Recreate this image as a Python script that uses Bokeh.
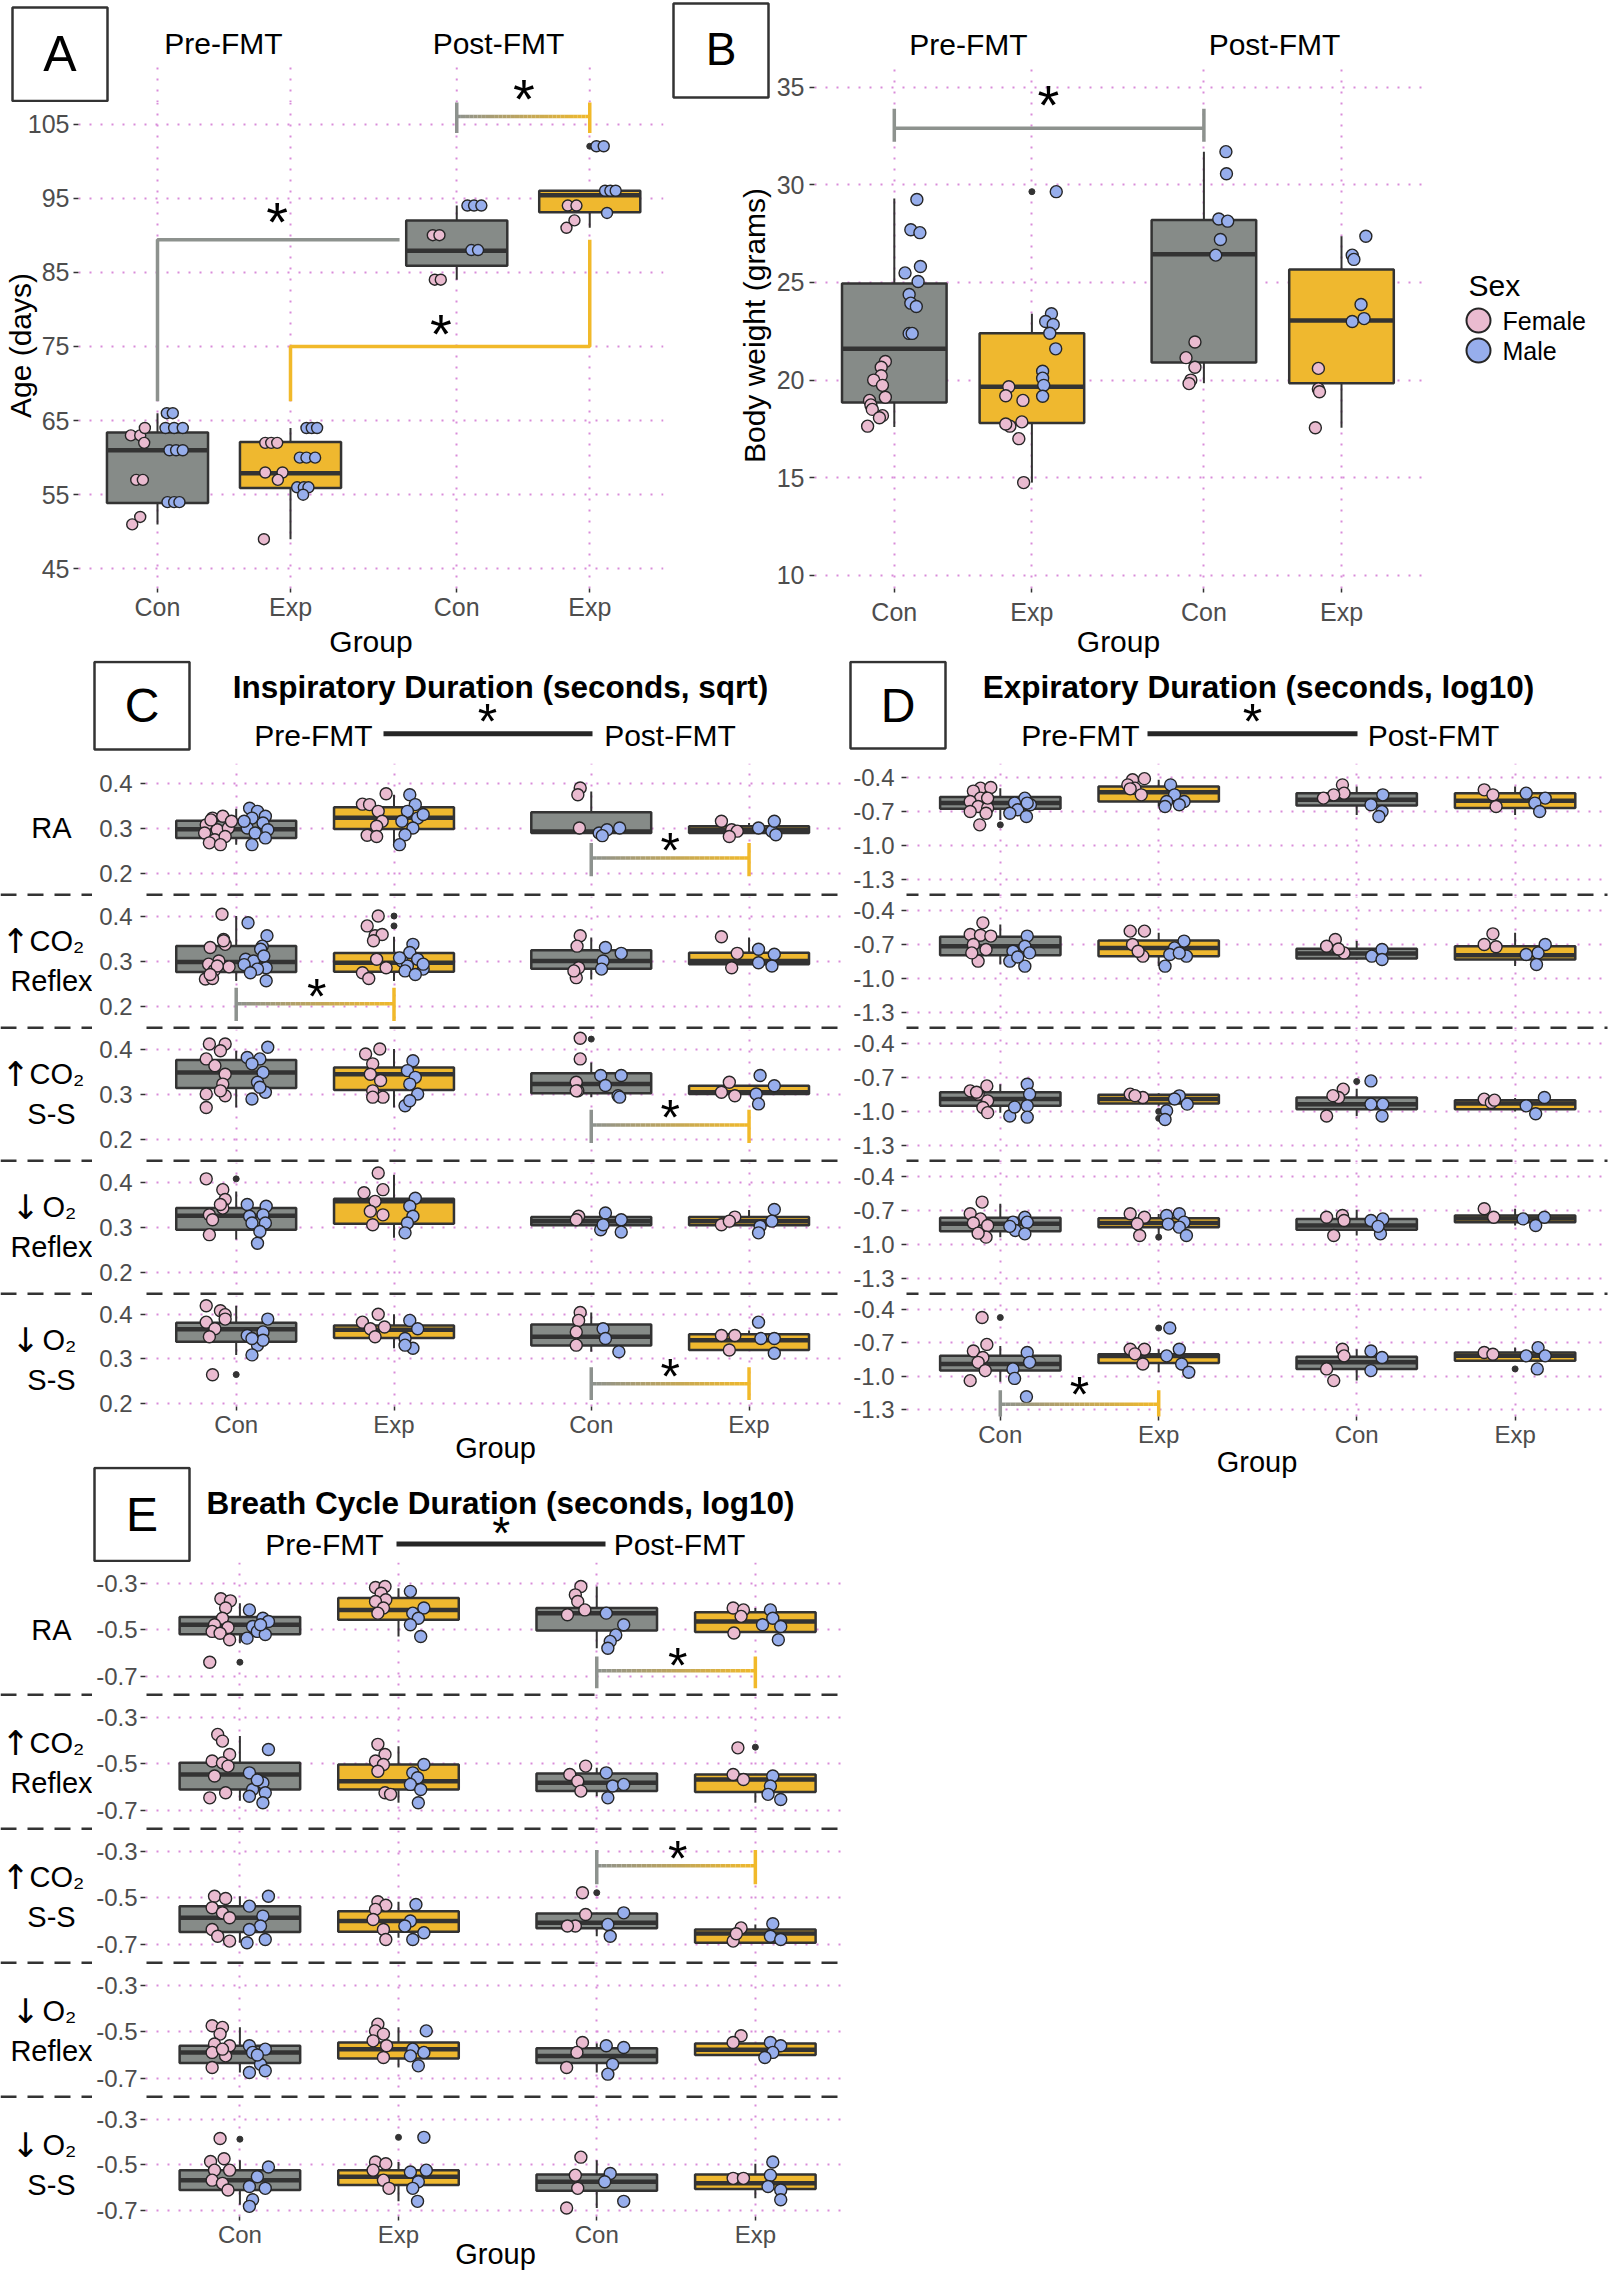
import math
from bokeh.plotting import figure
from bokeh.models import Range1d, FixedTicker, Label, Arrow, Grid, LinearAxis
from bokeh.layouts import row, column
from bokeh.embed import file_html
from bokeh.resources import INLINE
from bokeh.core.properties import value

FONT = "Liberation Sans"
ARROW_FONT = "DejaVu Sans"
DARK = "#333333"
PT_EDGE = "#262626"
TICK_COL = "#4D4D4D"
GRID_COL = "#D98CD9"
GREY = "#868B88"
YELLOW = "#EFB82F"
BR_GREY = "#8D928E"
BR_YELLOW = "#F1B92A"
FEMALE = "#EABBD0"
MALE = "#97AEEC"

# ---------------------------------------------------------------- data
X_POS = [1.0, 2.0, 3.25, 4.25]
X_LABELS = ["Con", "Exp", "Con", "Exp"]
BOX_FILL = [GREY, YELLOW, GREY, YELLOW]
SEX_LABELS = ["Female", "Male"]
ROW_LABELS = [["RA"], ["\u2191 CO\u2082", "Reflex"], ["\u2191 CO\u2082", "S-S"],
              ["\u2193 O\u2082", "Reflex"], ["\u2193 O\u2082", "S-S"]]

A_YTICKS = [45, 55, 65, 75, 85, 95, 105]
A_YLABELS = ["45", "55", "65", "75", "85", "95", "105"]
B_YTICKS = [10, 15, 20, 25, 30, 35]
B_YLABELS = ["10", "15", "20", "25", "30", "35"]
C_YTICKS = [0.2, 0.3, 0.4]
C_YLABELS = ["0.2", "0.3", "0.4"]
D_YTICKS = [-1.3, -1.0, -0.7, -0.4]
D_YLABELS = ["-1.3", "-1.0", "-0.7", "-0.4"]
E_YTICKS = [-0.7, -0.5, -0.3]
E_YLABELS = ["-0.7", "-0.5", "-0.3"]

# box stats per group: (q1, median, q3, whisker low, whisker high)
# points per group: (jitter offset, value)
A_BOX = [(53.9, 61.0, 63.4, 51.0, 66.0), (55.9, 57.9, 62.1, 49.0, 64.0),
         (85.9, 87.9, 92.0, 84.0, 94.0), (93.1, 95.4, 96.0, 91.0, 96.0)]
A_OUT = [[], [], [], [102.0]]
A_F = [[(-0.19, 51), (-0.13, 52), (-0.16, 57), (-0.11, 57), (-0.20, 63), (-0.13, 63), (-0.095, 64), (-0.10, 62)],
       [(-0.20, 49), (-0.19, 62), (-0.145, 62), (-0.10, 62), (-0.19, 58), (-0.06, 58), (-0.095, 57)],
       [(-0.18, 90), (-0.13, 90), (-0.165, 84), (-0.12, 84)],
       [(-0.165, 94), (-0.10, 94), (-0.115, 92), (-0.175, 91)]]
A_M = [[(0.07, 66), (0.115, 66), (0.06, 64), (0.125, 64), (0.19, 64), (0.09, 61), (0.14, 61), (0.19, 61),
        (0.075, 54), (0.125, 54), (0.165, 54)],
       [(0.12, 64), (0.16, 64), (0.20, 64), (0.07, 60), (0.12, 60), (0.185, 60), (0.05, 56), (0.10, 56),
        (0.135, 56), (0.095, 55)],
       [(0.08, 94), (0.13, 94), (0.185, 94), (0.11, 88), (0.16, 88)],
       [(0.05, 102), (0.105, 102), (0.115, 96), (0.155, 96), (0.195, 96), (0.13, 93)]]
A_PATH_GREY = ([1.0, 1.0, 2.82], [67.6, 89.4, 89.4])
A_PATH_YELLOW = ([2.0, 2.0, 4.25, 4.25], [67.6, 75.0, 75.0, 89.4])
A_TOP_BRACKET = (3.25, 4.25, 106.0, 103.8, 108.1)
A_STARS = [(1.9, 92.8), (3.13, 77.6)]
A_TOP_STAR = (3.755, 109.4)

B_BOX = [(18.85, 21.6, 24.95, 17.6, 29.3), (17.8, 19.66, 22.4, 14.75, 23.4),
         (20.9, 26.45, 28.2, 19.84, 31.7), (19.84, 23.05, 25.66, 17.56, 27.37)]
B_OUT = [[], [29.65], [], []]
B_F = [[(-0.065, 20.95), (-0.095, 20.66), (-0.095, 20.22), (-0.15, 20.0), (-0.086, 19.73), (-0.065, 19.12),
        (-0.18, 18.96), (-0.17, 18.73), (-0.16, 18.5), (-0.086, 18.18), (-0.108, 18.07), (-0.194, 17.64)],
       [(-0.168, 19.66), (-0.19, 19.2), (-0.065, 18.96), (-0.16, 17.64), (-0.073, 17.86), (-0.19, 17.75),
        (-0.095, 17.0), (-0.06, 14.75)],
       [(-0.065, 21.95), (-0.13, 21.15), (-0.065, 20.66), (-0.095, 20.0), (-0.108, 19.82)],
       [(-0.168, 20.6), (-0.168, 19.55), (-0.16, 19.4), (-0.19, 17.56)]]
B_M = [[(0.164, 29.25), (0.12, 27.7), (0.186, 27.55), (0.19, 25.82), (0.078, 25.49), (0.173, 25.05),
        (0.108, 24.38), (0.12, 23.94), (0.16, 23.77), (0.108, 22.39), (0.13, 22.39)],
       [(0.177, 29.65), (0.142, 23.4), (0.10, 23.0), (0.155, 22.85), (0.13, 22.4), (0.173, 21.6),
        (0.078, 20.45), (0.078, 20.1), (0.086, 19.73), (0.078, 19.17)],
       [(0.16, 31.7), (0.164, 30.57), (0.108, 28.25), (0.173, 28.14), (0.12, 27.2), (0.086, 26.4)],
       [(0.177, 27.37), (0.078, 26.4), (0.09, 26.18), (0.142, 23.87), (0.078, 23.0), (0.164, 23.15)]]
B_BRACKET = (1.0, 3.25, 32.9, 32.2, 33.9)
B_STAR = (2.12, 34.47)

# ---- Panel C : inspiratory duration (sqrt s)
C_RA_BOX = [(0.278, 0.297, 0.316, 0.263, 0.343), (0.298, 0.323, 0.346, 0.263, 0.374),
            (0.289, 0.292, 0.335, 0.289, 0.381), (0.289, 0.296, 0.304, 0.289, 0.311)]
C_RA_OUT = [[], [], [], []]
C_RA_F = [[(-0.15, 0.322), (-0.085, 0.326), (-0.19, 0.307), (-0.12, 0.296), (-0.05, 0.300), (-0.20, 0.289),
           (-0.135, 0.274), (-0.07, 0.281), (-0.17, 0.267), (-0.10, 0.263), (-0.03, 0.315), (-0.16, 0.318)],
          [(-0.20, 0.353), (-0.155, 0.352), (-0.05, 0.376), (-0.10, 0.337), (-0.075, 0.315), (-0.11, 0.304),
           (-0.17, 0.284), (-0.11, 0.281)],
          [(-0.07, 0.389), (-0.085, 0.374), (-0.075, 0.300)],
          [(-0.175, 0.315), (-0.11, 0.296), (-0.075, 0.293), (-0.125, 0.281)]]
C_RA_M = [[(0.085, 0.344), (0.135, 0.337), (0.10, 0.322), (0.185, 0.326), (0.17, 0.311), (0.07, 0.300),
           (0.20, 0.296), (0.12, 0.289), (0.185, 0.278), (0.10, 0.263), (0.05, 0.315)],
          [(0.10, 0.374), (0.135, 0.352), (0.085, 0.337), (0.15, 0.322), (0.05, 0.315), (0.12, 0.300),
           (0.07, 0.285), (0.035, 0.263), (0.185, 0.330)],
          [(0.05, 0.289), (0.10, 0.296), (0.18, 0.300), (0.07, 0.283)],
          [(0.06, 0.300), (0.145, 0.293), (0.16, 0.315), (0.17, 0.285)]]

C_CO2R_BOX = [(0.2756, 0.298, 0.3333, 0.2556, 0.400), (0.276, 0.296, 0.318, 0.2556, 0.354),
              (0.283, 0.300, 0.3237, 0.259, 0.352), (0.2926, 0.300, 0.3185, 0.2926, 0.352)]
C_CO2R_OUT = [[], [0.400, 0.378], [], []]
C_CO2R_F = [[(-0.09, 0.404), (-0.08, 0.348), (-0.165, 0.330), (-0.07, 0.337), (-0.11, 0.300), (-0.175, 0.293),
             (-0.045, 0.287), (-0.14, 0.279), (-0.195, 0.260), (-0.15, 0.261), (-0.08, 0.345), (-0.12, 0.289),
             (-0.165, 0.270)],
            [(-0.10, 0.400), (-0.17, 0.378), (-0.12, 0.356), (-0.075, 0.359), (-0.13, 0.345), (-0.11, 0.304),
             (-0.05, 0.285), (-0.20, 0.274), (-0.16, 0.261)],
            [(-0.07, 0.356), (-0.09, 0.333), (-0.08, 0.285), (-0.095, 0.263), (-0.11, 0.278)],
            [(-0.175, 0.354), (-0.075, 0.317), (-0.11, 0.285)]]
C_CO2R_M = [[(0.075, 0.385), (0.195, 0.356), (0.165, 0.333), (0.155, 0.326), (0.06, 0.304), (0.11, 0.300),
             (0.19, 0.285), (0.05, 0.292), (0.135, 0.282), (0.09, 0.274), (0.19, 0.256), (0.175, 0.311)],
            [(0.12, 0.337), (0.10, 0.319), (0.05, 0.300), (0.15, 0.304), (0.085, 0.289), (0.185, 0.282),
             (0.07, 0.278), (0.135, 0.270), (0.035, 0.307), (0.185, 0.293)],
            [(0.09, 0.330), (0.19, 0.317), (0.075, 0.300), (0.065, 0.282)],
            [(0.06, 0.326), (0.16, 0.315), (0.145, 0.289), (0.06, 0.296)]]

C_CO2S_BOX = [(0.3133, 0.348, 0.3756, 0.270, 0.396), (0.309, 0.344, 0.359, 0.270, 0.400),
              (0.3015, 0.322, 0.346, 0.293, 0.370), (0.300, 0.304, 0.3185, 0.300, 0.3185)]
C_CO2S_OUT = [[], [], [0.422], []]
C_CO2S_F = [[(-0.17, 0.411), (-0.07, 0.411), (-0.10, 0.396), (-0.19, 0.378), (-0.135, 0.363), (-0.07, 0.344),
             (-0.085, 0.322), (-0.19, 0.300), (-0.19, 0.270), (-0.07, 0.296), (-0.10, 0.307)],
            [(-0.18, 0.389), (-0.09, 0.400), (-0.135, 0.367), (-0.15, 0.344), (-0.085, 0.330), (-0.135, 0.307),
             (-0.07, 0.293), (-0.135, 0.293)],
            [(-0.07, 0.424), (-0.07, 0.378), (-0.095, 0.326), (-0.085, 0.307), (-0.095, 0.307)],
            [(-0.125, 0.326), (-0.175, 0.304), (-0.09, 0.296)]]
C_CO2S_M = [[(0.20, 0.404), (0.07, 0.381), (0.15, 0.378), (0.10, 0.367), (0.17, 0.348), (0.135, 0.326),
             (0.10, 0.289), (0.185, 0.304), (0.15, 0.315)],
            [(0.12, 0.374), (0.085, 0.352), (0.135, 0.337), (0.10, 0.322), (0.07, 0.274), (0.15, 0.300),
             (0.10, 0.285)],
            [(0.06, 0.341), (0.19, 0.341), (0.09, 0.319), (0.17, 0.296), (0.18, 0.293)],
            [(0.07, 0.341), (0.16, 0.3185), (0.045, 0.300), (0.06, 0.278)]]

C_O2R_BOX = [(0.294, 0.325, 0.342, 0.272, 0.379), (0.307, 0.357, 0.363, 0.276, 0.416),
             (0.304, 0.313, 0.322, 0.304, 0.322), (0.304, 0.313, 0.322, 0.304, 0.338)]
C_O2R_OUT = [[0.407], [], [], []]
C_O2R_F = [[(-0.19, 0.407), (-0.085, 0.383), (-0.07, 0.361), (-0.085, 0.342), (-0.17, 0.327), (-0.15, 0.316),
            (-0.10, 0.350), (-0.17, 0.283)],
           [(-0.10, 0.420), (-0.19, 0.376), (-0.07, 0.383), (-0.12, 0.357), (-0.15, 0.335), (-0.135, 0.305),
            (-0.07, 0.327)],
           [(-0.08, 0.324), (-0.095, 0.316)],
           [(-0.175, 0.305), (-0.09, 0.322), (-0.125, 0.313)]]
C_O2R_M = [[(0.07, 0.350), (0.19, 0.346), (0.085, 0.324), (0.17, 0.327), (0.10, 0.309), (0.185, 0.309),
            (0.15, 0.290), (0.135, 0.264)],
           [(0.135, 0.364), (0.10, 0.346), (0.12, 0.324), (0.085, 0.309), (0.07, 0.287)],
           [(0.09, 0.331), (0.19, 0.316), (0.06, 0.294), (0.19, 0.289), (0.075, 0.305)],
           [(0.16, 0.339), (0.145, 0.313), (0.07, 0.3015), (0.06, 0.287)]]

C_O2S_BOX = [(0.3385, 0.367, 0.3815, 0.309, 0.420), (0.347, 0.366, 0.3756, 0.324, 0.401),
             (0.330, 0.350, 0.378, 0.316, 0.405), (0.320, 0.342, 0.3556, 0.320, 0.364)]
C_O2S_OUT = [[0.2644], [], [], []]
C_O2S_F = [[(-0.19, 0.420), (-0.10, 0.409), (-0.07, 0.400), (-0.19, 0.383), (-0.135, 0.368), (-0.17, 0.350),
            (-0.07, 0.390), (-0.15, 0.264)],
           [(-0.10, 0.401), (-0.20, 0.383), (-0.15, 0.368), (-0.06, 0.372), (-0.12, 0.350)],
           [(-0.07, 0.405), (-0.08, 0.387), (-0.095, 0.361), (-0.095, 0.331)],
           [(-0.175, 0.353), (-0.09, 0.353), (-0.125, 0.320)]]
C_O2S_M = [[(0.20, 0.390), (0.07, 0.353), (0.17, 0.361), (0.135, 0.331), (0.10, 0.309), (0.17, 0.342),
            (0.10, 0.346)],
           [(0.10, 0.387), (0.15, 0.368), (0.07, 0.346), (0.12, 0.324), (0.07, 0.331)],
           [(0.075, 0.368), (0.09, 0.346), (0.175, 0.316)],
           [(0.06, 0.383), (0.075, 0.346), (0.16, 0.346), (0.16, 0.3126)]]

# significance brackets: (row, x from, x to, y, tick low, tick high, star x, star y)
C_SIG = [(0, 3.25, 4.25, 0.2333, 0.1926, 0.2667, 3.75, 0.263),
         (1, 1.0, 2.0, 0.2052, 0.1667, 0.2407, 1.51, 0.233),
         (2, 3.25, 4.25, 0.231, 0.191, 0.265, 3.75, 0.259),
         (4, 3.25, 4.25, 0.2437, 0.2067, 0.281, 3.75, 0.272)]

# ---- Panel D : expiratory duration (log10 s)
D_RA_BOX = [(-0.676, -0.626, -0.573, -0.774, -0.494), (-0.612, -0.53, -0.479, -0.656, -0.42),
            (-0.647, -0.597, -0.538, -0.73, -0.479), (-0.67, -0.606, -0.538, -0.73, -0.479)]
D_RA_OUT = [[-0.818], [], [], []]
D_RA_F = [[(-0.125, -0.494), (-0.06, -0.488), (-0.17, -0.52), (-0.125, -0.582), (-0.19, -0.612), (-0.14, -0.656),
           (-0.08, -0.670), (-0.19, -0.700), (-0.09, -0.715), (-0.13, -0.818), (-0.08, -0.582)],
          [(-0.165, -0.420), (-0.09, -0.410), (-0.195, -0.465), (-0.15, -0.494), (-0.11, -0.553), (-0.18, -0.50)],
          [(-0.09, -0.465), (-0.08, -0.538), (-0.145, -0.553), (-0.21, -0.582)],
          [(-0.195, -0.509), (-0.14, -0.553), (-0.12, -0.656)]]
D_RA_M = [[(0.155, -0.582), (0.09, -0.626), (0.19, -0.641), (0.11, -0.685), (0.06, -0.715), (0.165, -0.744),
           (0.17, -0.626)],
          [(0.075, -0.465), (0.10, -0.553), (0.05, -0.612), (0.16, -0.612), (0.13, -0.641), (0.04, -0.656)],
          [(0.165, -0.553), (0.09, -0.641), (0.16, -0.700), (0.14, -0.744)],
          [(0.07, -0.538), (0.19, -0.582), (0.125, -0.626), (0.155, -0.700)]]

D_CO2R_BOX = [(-0.794, -0.715, -0.632, -0.876, -0.524), (-0.803, -0.73, -0.665, -0.89, -0.597),
              (-0.824, -0.78, -0.738, -0.832, -0.67), (-0.832, -0.794, -0.715, -0.89, -0.597)]
D_CO2R_OUT = [[], [], [], []]
D_CO2R_F = [[(-0.11, -0.509), (-0.19, -0.612), (-0.125, -0.618), (-0.06, -0.626), (-0.17, -0.70), (-0.09, -0.744),
             (-0.14, -0.847), (-0.18, -0.774)],
            [(-0.18, -0.582), (-0.09, -0.582), (-0.165, -0.70), (-0.10, -0.803), (-0.13, -0.76)],
            [(-0.135, -0.656), (-0.19, -0.715), (-0.08, -0.774), (-0.115, -0.74)],
            [(-0.14, -0.606), (-0.195, -0.70), (-0.12, -0.72)]]
D_CO2R_M = [[(0.17, -0.626), (0.155, -0.715), (0.08, -0.759), (0.185, -0.774), (0.06, -0.847), (0.155, -0.891),
             (0.11, -0.81)],
            [(0.16, -0.67), (0.10, -0.73), (0.07, -0.788), (0.175, -0.803), (0.04, -0.891), (0.13, -0.775)],
            [(0.16, -0.744), (0.095, -0.803), (0.16, -0.832)],
            [(0.19, -0.70), (0.145, -0.774), (0.07, -0.788), (0.135, -0.876)]]

D_CO2S_BOX = [(-0.95, -0.89, -0.83, -1.01, -0.76), (-0.929, -0.89, -0.853, -0.95, -0.84),
              (-0.98, -0.935, -0.876, -1.04, -0.80), (-0.98, -0.93, -0.90, -1.0, -0.88)]
D_CO2S_OUT = [[], [-1.0, -1.06], [-0.735], []]
D_CO2S_F = [[(-0.19, -0.818), (-0.085, -0.774), (-0.14, -0.847), (-0.08, -0.906), (-0.11, -0.965), (-0.08, -1.01),
             (-0.15, -0.83)],
            [(-0.18, -0.847), (-0.10, -0.876), (-0.15, -0.86)],
            [(-0.085, -0.803), (-0.115, -0.876), (-0.15, -0.86), (-0.19, -1.04)],
            [(-0.195, -0.891), (-0.15, -0.92), (-0.13, -0.90)]]
D_CO2S_M = [[(0.17, -0.759), (0.185, -0.847), (0.17, -0.95), (0.06, -1.04), (0.17, -1.05), (0.09, -0.96)],
            [(0.13, -0.862), (0.18, -0.935), (0.05, -0.994), (0.04, -1.07), (0.10, -0.89)],
            [(0.09, -0.73), (0.09, -0.935), (0.165, -0.935), (0.16, -1.04)],
            [(0.07, -0.95), (0.185, -0.876), (0.13, -1.02)]]

D_O2R_BOX = [(-0.882, -0.818, -0.765, -0.935, -0.64), (-0.847, -0.81, -0.768, -0.92, -0.73),
             (-0.87, -0.832, -0.774, -0.92, -0.694), (-0.803, -0.77, -0.744, -0.832, -0.685)]
D_O2R_OUT = [[], [-0.935], [], []]
D_O2R_F = [[(-0.115, -0.626), (-0.19, -0.729), (-0.125, -0.774), (-0.08, -0.832), (-0.17, -0.81), (-0.09, -0.935),
            (-0.14, -0.90)],
           [(-0.18, -0.729), (-0.09, -0.759), (-0.135, -0.818), (-0.12, -0.92)],
           [(-0.19, -0.759), (-0.09, -0.744), (-0.08, -0.788), (-0.145, -0.92)],
           [(-0.195, -0.685), (-0.135, -0.759)]]
D_O2R_M = [[(0.155, -0.759), (0.08, -0.803), (0.17, -0.803), (0.095, -0.876), (0.155, -0.906), (0.06, -0.84)],
           [(0.13, -0.729), (0.05, -0.744), (0.16, -0.803), (0.13, -0.847), (0.175, -0.92), (0.06, -0.82)],
           [(0.09, -0.788), (0.165, -0.774), (0.15, -0.906), (0.135, -0.84)],
           [(0.05, -0.774), (0.13, -0.832), (0.185, -0.759)]]

D_O2S_BOX = [(-0.95, -0.89, -0.818, -1.05, -0.73), (-0.882, -0.82, -0.803, -0.965, -0.759),
             (-0.935, -0.876, -0.826, -1.04, -0.759), (-0.862, -0.818, -0.788, -0.862, -0.744)]
D_O2S_OUT = [[-0.474], [-0.568], [], [-0.935]]
D_O2S_F = [[(-0.115, -0.474), (-0.085, -0.715), (-0.17, -0.774), (-0.11, -0.832), (-0.14, -0.876), (-0.095, -0.95),
            (-0.19, -1.04)],
           [(-0.18, -0.759), (-0.09, -0.759), (-0.15, -0.80), (-0.10, -0.891)],
           [(-0.09, -0.759), (-0.08, -0.818), (-0.19, -0.935), (-0.145, -1.04)],
           [(-0.195, -0.788), (-0.14, -0.803)]]
D_O2S_M = [[(0.17, -0.788), (0.185, -0.876), (0.08, -0.935), (0.09, -1.02), (0.165, -1.185)],
           [(0.07, -0.568), (0.13, -0.759), (0.05, -0.818), (0.145, -0.891), (0.19, -0.965)],
           [(0.09, -0.774), (0.16, -0.832), (0.09, -0.95)],
           [(0.145, -0.744), (0.19, -0.818), (0.07, -0.818), (0.14, -0.935)]]

D_SIG = [(4, 1.0, 2.0, -1.253, -1.406, -1.126, 1.50, -1.12)]

# ---- Panel E : breath cycle duration (log10 s)
E_RA_BOX = [(-0.519, -0.478, -0.445, -0.558, -0.385), (-0.457, -0.414, -0.363, -0.529, -0.32),
            (-0.503, -0.428, -0.406, -0.58, -0.313), (-0.51, -0.464, -0.424, -0.514, -0.406)]
E_RA_OUT = [[-0.64], [], [], []]
E_RA_F = [[(-0.12, -0.366), (-0.06, -0.375), (-0.09, -0.406), (-0.11, -0.45), (-0.16, -0.478), (-0.075, -0.49),
           (-0.175, -0.507), (-0.125, -0.515), (-0.065, -0.543), (-0.19, -0.64)],
          [(-0.145, -0.317), (-0.085, -0.313), (-0.11, -0.342), (-0.08, -0.37), (-0.145, -0.378), (-0.095, -0.406),
           (-0.13, -0.428)],
          [(-0.10, -0.313), (-0.135, -0.349), (-0.12, -0.378), (-0.075, -0.414), (-0.185, -0.435)],
          [(-0.14, -0.406), (-0.075, -0.414), (-0.09, -0.442), (-0.135, -0.514)]]
E_RA_M = [[(0.06, -0.414), (0.145, -0.45), (0.18, -0.464), (0.08, -0.486), (0.11, -0.507), (0.16, -0.52),
           (0.045, -0.536), (0.13, -0.478)],
          [(0.075, -0.334), (0.16, -0.406), (0.09, -0.428), (0.125, -0.45), (0.075, -0.478), (0.14, -0.529)],
          [(0.06, -0.428), (0.17, -0.478), (0.12, -0.522), (0.085, -0.55), (0.07, -0.58)],
          [(0.095, -0.414), (0.11, -0.45), (0.16, -0.486), (0.045, -0.478), (0.145, -0.543)]]

E_CO2R_BOX = [(-0.611, -0.546, -0.496, -0.66, -0.38), (-0.611, -0.575, -0.503, -0.668, -0.424),
              (-0.618, -0.582, -0.542, -0.64, -0.517), (-0.622, -0.568, -0.546, -0.668, -0.546)]
E_CO2R_OUT = [[], [], [], [-0.428]]
E_CO2R_F = [[(-0.14, -0.373), (-0.11, -0.402), (-0.065, -0.46), (-0.175, -0.488), (-0.11, -0.496), (-0.075, -0.51),
             (-0.16, -0.553), (-0.19, -0.647), (-0.09, -0.625)],
            [(-0.13, -0.416), (-0.085, -0.46), (-0.145, -0.488), (-0.095, -0.503), (-0.13, -0.532), (-0.085, -0.625),
             (-0.05, -0.632)],
            [(-0.07, -0.51), (-0.17, -0.546), (-0.12, -0.575), (-0.10, -0.618)],
            [(-0.11, -0.431), (-0.14, -0.546), (-0.075, -0.568)]]
E_CO2R_M = [[(0.18, -0.438), (0.06, -0.539), (0.145, -0.582), (0.08, -0.611), (0.16, -0.625), (0.06, -0.64),
             (0.145, -0.668), (0.11, -0.57)],
            [(0.16, -0.503), (0.09, -0.539), (0.12, -0.56), (0.075, -0.589), (0.14, -0.611), (0.125, -0.668)],
            [(0.06, -0.539), (0.10, -0.596), (0.17, -0.589), (0.07, -0.647)],
            [(0.11, -0.553), (0.095, -0.596), (0.08, -0.632), (0.16, -0.654)]]

E_CO2S_BOX = [(-0.648, -0.586, -0.536, -0.694, -0.493), (-0.647, -0.60, -0.558, -0.673, -0.517),
              (-0.632, -0.608, -0.568, -0.666, -0.565), (-0.694, -0.654, -0.637, -0.694, -0.615)]
E_CO2S_OUT = [[], [], [-0.478], []]
E_CO2S_F = [[(-0.16, -0.493), (-0.09, -0.503), (-0.175, -0.543), (-0.11, -0.565), (-0.065, -0.586), (-0.175, -0.637),
             (-0.14, -0.666), (-0.065, -0.687)],
            [(-0.13, -0.517), (-0.08, -0.532), (-0.145, -0.55), (-0.16, -0.594), (-0.095, -0.637), (-0.08, -0.68)],
            [(-0.09, -0.478), (-0.07, -0.572), (-0.135, -0.622), (-0.185, -0.622)],
            [(-0.09, -0.63), (-0.14, -0.687), (-0.12, -0.655)]]
E_CO2S_M = [[(0.18, -0.493), (0.06, -0.536), (0.145, -0.579), (0.13, -0.622), (0.06, -0.637), (0.16, -0.68),
             (0.045, -0.694)],
            [(0.11, -0.529), (0.075, -0.60), (0.16, -0.651), (0.09, -0.68), (0.04, -0.622)],
            [(0.17, -0.565), (0.07, -0.615), (0.085, -0.666)],
            [(0.11, -0.612), (0.095, -0.666), (0.16, -0.68)]]

E_O2R_BOX = [(-0.635, -0.589, -0.56, -0.676, -0.48), (-0.615, -0.575, -0.546, -0.654, -0.48),
             (-0.635, -0.604, -0.571, -0.676, -0.55), (-0.60, -0.578, -0.55, -0.60, -0.55)]
E_O2R_OUT = [[], [], [], []]
E_O2R_F = [[(-0.175, -0.474), (-0.11, -0.481), (-0.125, -0.51), (-0.16, -0.553), (-0.065, -0.56), (-0.175, -0.589),
            (-0.09, -0.604), (-0.175, -0.654), (-0.11, -0.575)],
           [(-0.13, -0.467), (-0.145, -0.496), (-0.095, -0.51), (-0.16, -0.539), (-0.075, -0.56), (-0.095, -0.611)],
           [(-0.09, -0.546), (-0.125, -0.589), (-0.19, -0.654)],
           [(-0.09, -0.517), (-0.14, -0.546)]]
E_O2R_M = [[(0.06, -0.56), (0.16, -0.575), (0.08, -0.589), (0.13, -0.64), (0.06, -0.676), (0.16, -0.668),
            (0.11, -0.60)],
           [(0.175, -0.496), (0.09, -0.575), (0.16, -0.589), (0.075, -0.604), (0.125, -0.647)],
           [(0.06, -0.56), (0.17, -0.568), (0.10, -0.64), (0.07, -0.683)],
           [(0.095, -0.546), (0.16, -0.56), (0.11, -0.589), (0.06, -0.611)]]

E_O2S_BOX = [(-0.611, -0.568, -0.524, -0.676, -0.48), (-0.589, -0.553, -0.524, -0.661, -0.488),
             (-0.615, -0.575, -0.543, -0.69, -0.48), (-0.607, -0.582, -0.543, -0.647, -0.496)]
E_O2S_OUT = [[-0.388], [-0.38], [], []]
E_O2S_F = [[(-0.125, -0.385), (-0.185, -0.486), (-0.10, -0.474), (-0.16, -0.524), (-0.065, -0.524), (-0.175, -0.568),
            (-0.11, -0.582), (-0.075, -0.611)],
           [(-0.145, -0.488), (-0.08, -0.496), (-0.16, -0.524), (-0.095, -0.568), (-0.06, -0.604)],
           [(-0.10, -0.467), (-0.135, -0.546), (-0.12, -0.604), (-0.19, -0.69)],
           [(-0.14, -0.56), (-0.075, -0.56)]]
E_O2S_M = [[(0.18, -0.51), (0.11, -0.553), (0.06, -0.596), (0.16, -0.604), (0.08, -0.654), (0.06, -0.683)],
           [(0.16, -0.38), (0.175, -0.524), (0.075, -0.532), (0.125, -0.575), (0.09, -0.604), (0.12, -0.661)],
           [(0.085, -0.539), (0.05, -0.575), (0.17, -0.661)],
           [(0.11, -0.488), (0.095, -0.546), (0.08, -0.596), (0.16, -0.611), (0.16, -0.654)]]

E_SIG = [(0, 3.25, 4.25, -0.677, -0.752, -0.615, 3.76, -0.63),
         (2, 3.25, 4.25, -0.362, -0.442, -0.293, 3.76, -0.307)]

C_ROWS = [(C_RA_BOX, C_RA_OUT, C_RA_F, C_RA_M), (C_CO2R_BOX, C_CO2R_OUT, C_CO2R_F, C_CO2R_M),
          (C_CO2S_BOX, C_CO2S_OUT, C_CO2S_F, C_CO2S_M), (C_O2R_BOX, C_O2R_OUT, C_O2R_F, C_O2R_M),
          (C_O2S_BOX, C_O2S_OUT, C_O2S_F, C_O2S_M)]
D_ROWS = [(D_RA_BOX, D_RA_OUT, D_RA_F, D_RA_M), (D_CO2R_BOX, D_CO2R_OUT, D_CO2R_F, D_CO2R_M),
          (D_CO2S_BOX, D_CO2S_OUT, D_CO2S_F, D_CO2S_M), (D_O2R_BOX, D_O2R_OUT, D_O2R_F, D_O2R_M),
          (D_O2S_BOX, D_O2S_OUT, D_O2S_F, D_O2S_M)]
E_ROWS = [(E_RA_BOX, E_RA_OUT, E_RA_F, E_RA_M), (E_CO2R_BOX, E_CO2R_OUT, E_CO2R_F, E_CO2R_M),
          (E_CO2S_BOX, E_CO2S_OUT, E_CO2S_F, E_CO2S_M), (E_O2R_BOX, E_O2R_OUT, E_O2R_F, E_O2R_M),
          (E_O2S_BOX, E_O2S_OUT, E_O2S_F, E_O2S_M)]

C_TITLE = "Inspiratory Duration (seconds, sqrt)"
D_TITLE = "Expiratory Duration (seconds, log10)"
E_TITLE = "Breath Cycle Duration (seconds, log10)"


# ---------------------------------------------------------------- helpers
class Geo:
    """Maps page pixel positions onto a plot's data space."""
    def __init__(self, fl, fr, ft, fb, xv, xpx, xppu, yv, ypx, yppu):
        self.fl, self.fr, self.ft, self.fb = fl, fr, ft, fb
        self.xv, self.xpx, self.xppu = xv, xpx, xppu
        self.yv, self.ypx, self.yppu = yv, ypx, yppu

    def X(self, px):
        return self.xv + (px - self.xpx) / self.xppu

    def Y(self, py):
        return self.yv + (self.ypx - py) / self.yppu


def W(f):
    """Wrap a figure so that layouts do not re-align its frame with its neighbours."""
    return row(f)


def mix(c1, c2, t):
    a = [int(c1[i:i + 2], 16) for i in (1, 3, 5)]
    b = [int(c2[i:i + 2], 16) for i in (1, 3, 5)]
    return "#%02x%02x%02x" % tuple(int(round(a[k] + (b[k] - a[k]) * t)) for k in range(3))


def style_axis(ax, fs, tick_out, standoff):
    ax.axis_line_color = None
    ax.major_tick_line_color = DARK
    ax.major_tick_line_width = 1.5
    ax.major_tick_out = tick_out
    ax.major_tick_in = 0
    ax.minor_tick_line_color = None
    ax.major_label_text_font = FONT
    ax.major_label_text_font_size = "%dpx" % fs
    ax.major_label_text_color = TICK_COL
    ax.major_label_standoff = standoff


def style_title(ax, text, size, standoff):
    ax.axis_label = text
    ax.axis_label_text_font = FONT
    ax.axis_label_text_font_size = "%dpx" % size
    ax.axis_label_text_font_style = "normal"
    ax.axis_label_text_color = "#000000"
    ax.axis_label_standoff = standoff


def bare(p):
    p.center = [r for r in p.center if not isinstance(r, Grid)]
    p.outline_line_color = None
    p.background_fill_color = "white"
    p.border_fill_color = "white"
    return p


def make_plot(g, left, right, top, bottom, yticks, ylabels, show_x, tick_fs, ytick_out, ystand, xstand,
              xlabel=None, xls=0, xlab_fs=30, ylabel=None, yls=0):
    p = figure(width=right - left, height=bottom - top,
               x_range=Range1d(g.X(g.fl), g.X(g.fr)), y_range=Range1d(g.Y(g.fb), g.Y(g.ft)),
               x_axis_location=None, y_axis_location=None, title=None,
               toolbar_location=None, output_backend="svg",
               min_border_left=g.fl - left, min_border_right=right - g.fr,
               min_border_top=g.ft - top, min_border_bottom=bottom - g.fb)
    bare(p)
    for dim, ticks in ((0, X_POS), (1, yticks)):
        p.add_layout(Grid(dimension=dim, ticker=FixedTicker(ticks=ticks), grid_line_color=GRID_COL,
                          grid_line_width=2, grid_line_dash="2 9"))
    yax = LinearAxis(ticker=FixedTicker(ticks=yticks),
                     major_label_overrides={t: s for t, s in zip(yticks, ylabels)})
    style_axis(yax, tick_fs, ytick_out, ystand)
    if ylabel:
        style_title(yax, ylabel, 30, yls)
    p.add_layout(yax, "left")
    if show_x:
        xax = LinearAxis(ticker=FixedTicker(ticks=X_POS),
                         major_label_overrides={t: s for t, s in zip(X_POS, X_LABELS)})
        style_axis(xax, tick_fs, 4, xstand)
        if xlabel:
            style_title(xax, xlabel, xlab_fs, xls)
        p.add_layout(xax, "below")
    return p


def px_fig(w, h):
    p = figure(width=w, height=h, x_range=Range1d(0, w), y_range=Range1d(h, 0),
               x_axis_location=None, y_axis_location=None, title=None,
               toolbar_location=None, output_backend="svg",
               min_border_left=0, min_border_right=0, min_border_top=0, min_border_bottom=0)
    return bare(p)


def data_fig(g, left, right, top, bottom):
    p = figure(width=right - left, height=bottom - top,
               x_range=Range1d(g.X(left), g.X(right)), y_range=Range1d(g.Y(bottom), g.Y(top)),
               x_axis_location=None, y_axis_location=None, title=None,
               toolbar_location=None, output_backend="svg",
               min_border_left=0, min_border_right=0, min_border_top=0, min_border_bottom=0)
    return bare(p)


def txt(p, x, y, s, size, align="center", bold=False, angle=0.0, font=FONT):
    p.text(x=[x], y=[y], text=[s], text_font=value(font), text_font_size=value("%spx" % size),
           text_align=align, text_baseline="middle", text_color="black",
           text_font_style="bold" if bold else "normal", angle=angle)


STAR_SHIFT = 0.12


def star(p, g, x, yc, size):
    p.add_layout(Label(x=x, y=yc - STAR_SHIFT * size / g.yppu, text="*", text_font=FONT,
                       text_font_size="%dpx" % size, text_color="black", text_align="center",
                       text_baseline="middle"))


HALF = 0.38


def draw_boxes(p, boxes, outs, fem, mal, pt):
    wx, wy0, wy1 = [], [], []
    for i, (q1, md, q3, lo, hi) in enumerate(boxes):
        wx += [X_POS[i], X_POS[i]]
        wy0 += [lo, q3]
        wy1 += [q1, hi]
    p.segment(x0=wx, y0=wy0, x1=wx, y1=wy1, line_color=DARK, line_width=2)
    p.quad(left=[x - HALF for x in X_POS], right=[x + HALF for x in X_POS],
           bottom=[b[0] for b in boxes], top=[b[2] for b in boxes],
           fill_color=BOX_FILL, line_color=DARK, line_width=2.5)
    p.segment(x0=[x - HALF for x in X_POS], y0=[b[1] for b in boxes],
              x1=[x + HALF for x in X_POS], y1=[b[1] for b in boxes], line_color=DARK, line_width=4.5)
    ox = [X_POS[i] for i, o in enumerate(outs) for v in o]
    oy = [v for o in outs for v in o]
    if ox:
        p.scatter(ox, oy, size=6, color=DARK)
    for pts, col in ((fem, FEMALE), (mal, MALE)):
        xs = [X_POS[i] + dx for i, grp in enumerate(pts) for dx, v in grp]
        ys = [v for grp in pts for dx, v in grp]
        p.scatter(xs, ys, size=pt, fill_color=col, line_color=PT_EDGE, line_width=1.4)


def grad_bracket(p, x1, x2, y, tlo, thi, n=32):
    xs = [x1 + (x2 - x1) * k / n for k in range(n + 1)]
    cols = [mix(BR_GREY, BR_YELLOW, (k + 0.5) / n) for k in range(n)]
    p.segment(x0=xs[:-1], y0=[y] * n, x1=xs[1:], y1=[y] * n, line_color=cols, line_width=3.5)
    p.segment(x0=[x1, x2], y0=[tlo, tlo], x1=[x1, x2], y1=[thi, thi],
              line_color=[BR_GREY, BR_YELLOW], line_width=3.5)


def draw_header(p, box, letter, title, title_xy, pre_xy, line_x, line_y, star_xy, post_xy, star_size=50):
    l, t, r, b = box
    p.quad(left=[l], right=[r], top=[t], bottom=[b], fill_color=None, line_color=DARK, line_width=2.5)
    txt(p, (l + r) / 2, (t + b) / 2, letter, 48)
    txt(p, title_xy[0], title_xy[1], title, 31.5, bold=True)
    txt(p, pre_xy[0], pre_xy[1], "Pre-FMT", 30)
    txt(p, post_xy[0], post_xy[1], "Post-FMT", 30)
    p.segment(x0=[line_x[0]], y0=[line_y], x1=[line_x[1]], y1=[line_y], line_color="#262626", line_width=5)
    txt(p, star_xy[0], star_xy[1] + STAR_SHIFT * star_size, "*", star_size)


def row_label(s, left, y, label):
    """Gas-challenge label: arrow glyph drawn larger, followed by the gas name."""
    arrow, gas = label.split(" ", 1)
    if gas.startswith("CO"):
        txt(s, 15 - left, y, arrow, 34, font=ARROW_FONT)
        txt(s, 29 - left, y, gas, 29, align="left")
    else:
        txt(s, 25 - left, y, arrow, 34, font=ARROW_FONT)
        txt(s, 42 - left, y, gas, 29, align="left")


def build_rows(rows, sigs, tops, fbs, bottoms, left, right, strip_w, fl, fr, xpx, xppu, yv, y_off, yppu,
               yticks, ylabels, ystand, mid_off, group_standoff):
    items = []
    plot_left = left + strip_w
    for k in range(5):
        g = Geo(fl, fr, tops[k], fbs[k], 1.0, xpx, xppu, yv, tops[k] + y_off, yppu)
        p = make_plot(g, plot_left, right, tops[k], bottoms[k], yticks, ylabels, k == 4, 24, 5, ystand, 0,
                      xlabel="Group" if k == 4 else None, xls=group_standoff, xlab_fs=29)
        box, out, fem, mal = rows[k]
        draw_boxes(p, box, out, fem, mal, 12)
        for s in sigs:
            if s[0] == k:
                grad_bracket(p, s[1], s[2], s[3], s[4], s[5])
                star(p, g, s[6], s[7], 50)
        if k < 4:
            yd = g.Y(fbs[k] - 1.5)
            p.add_layout(Arrow(start=None, end=None, x_start=g.X(plot_left), y_start=yd, x_end=g.X(right),
                               y_end=yd, line_color=DARK, line_width=3, line_dash="16 11"))
        if strip_w:
            h = bottoms[k] - tops[k]
            s = px_fig(strip_w, h)
            lab = ROW_LABELS[k]
            if len(lab) == 1:
                txt(s, 51 - left, mid_off, lab[0], 29)
            else:
                row_label(s, left, mid_off - 20.5, lab[0])
                txt(s, 51 - left, mid_off + 19.5, lab[1], 29)
            if k < 4:
                yl = fbs[k] - 1.5 - tops[k]
                s.segment(x0=[0], y0=[yl], x1=[strip_w], y1=[yl], line_color=DARK, line_width=3,
                          line_dash="16 11")
            items.append(row(W(s), W(p)))
        else:
            items.append(W(p))
    return items


# ---------------------------------------------------------------- panel A
gA = Geo(78, 663, 102, 590, 1.0, 157.0, 133.0, 105.0, 123.6, 7.445)
hA = data_fig(gA, 0, 668, 0, 102)
hA.segment(x0=X_POS, y0=[gA.Y(67)] * 4, x1=X_POS, y1=[gA.Y(102)] * 4, line_color=GRID_COL,
           line_width=2, line_dash="2 9")
hA.quad(left=[gA.X(12)], right=[gA.X(107)], top=[gA.Y(7)], bottom=[gA.Y(100.5)], fill_color=None,
        line_color=DARK, line_width=2.5)
txt(hA, gA.X(59.5), gA.Y(53), "A", 50)
txt(hA, gA.X(223), gA.Y(43), "Pre-FMT", 30)
txt(hA, gA.X(498), gA.Y(43), "Post-FMT", 30)
txt(hA, A_TOP_STAR[0], A_TOP_STAR[1] - STAR_SHIFT * 56 / gA.yppu, "*", 56)

pA = make_plot(gA, 0, 668, 102, 660, A_YTICKS, A_YLABELS, True, 25, 5, 4, 0,
               xlabel="Group", xls=1, ylabel="Age (days)", yls=-12)
draw_boxes(pA, A_BOX, A_OUT, A_F, A_M, 11)
pA.line(A_PATH_GREY[0], A_PATH_GREY[1], line_color=BR_GREY, line_width=3.5)
pA.line(A_PATH_YELLOW[0], A_PATH_YELLOW[1], line_color=BR_YELLOW, line_width=3.5)
grad_bracket(pA, *A_TOP_BRACKET)
for sx, sy in A_STARS:
    star(pA, gA, sx, sy, 56)

# ---------------------------------------------------------------- panel B
sB = px_fig(104, 660)
sB.quad(left=[5], right=[100], top=[3], bottom=[97], fill_color=None, line_color=DARK, line_width=2.5)
txt(sB, 52.5, 48, "B", 46)
txt(sB, 86, 325, "Body weight (grams)", 30, angle=math.pi / 2)

gB = Geo(814, 1422, 61, 590, 1.0, 893.8, 137.6, 10.0, 576.8, 19.6)
hB = data_fig(gB, 772, 1422, 0, 61)
txt(hB, gB.X(968), gB.Y(43.5), "Pre-FMT", 30)
txt(hB, gB.X(1274), gB.Y(43.5), "Post-FMT", 30)

pB = make_plot(gB, 772, 1422, 61, 660, B_YTICKS, B_YLABELS, True, 25, 5, 5, 5, xlabel="Group", xls=-4)
draw_boxes(pB, B_BOX, B_OUT, B_F, B_M, 12)
bx1, bx2, by, btl, bth = B_BRACKET
pB.segment(x0=[bx1, bx1, bx2], y0=[by, btl, btl], x1=[bx2, bx1, bx2], y1=[by, bth, bth],
           line_color=BR_GREY, line_width=3.5)
star(pB, gB, B_STAR[0], B_STAR[1], 56)

leg = px_fig(188, 660)
txt(leg, 46, 285, "Sex", 30, align="left")
leg.scatter(x=[56, 56], y=[320, 350], size=24, fill_color=[FEMALE, MALE], line_color=PT_EDGE, line_width=2)
txt(leg, 80, 320, SEX_LABELS[0], 25, align="left")
txt(leg, 80, 350, SEX_LABELS[1], 25, align="left")

# ---------------------------------------------------------------- panel C
hC = px_fig(848, 103)
draw_header(hC, (94, 1.5, 189, 89), "C", C_TITLE, (500, 26.7), (313, 75), (383, 592), 73.3, (487, 55),
            (669.5, 75))
ROW_TOPS = [763, 896, 1029, 1162, 1295]
C_FBS = [896, 1029, 1162, 1295, 1408]
C_BOTTOMS = [896, 1029, 1162, 1295, 1466]
c_items = build_rows(C_ROWS, C_SIG, ROW_TOPS, C_FBS, C_BOTTOMS, 0, 848, 92, 145, 845, 235.7, 157.8,
                     0.4, 19.5, 450.0, C_YTICKS, C_YLABELS, 8, 64.5, -9)

# ---------------------------------------------------------------- panel D
hD = px_fig(762, 103)
draw_header(hD, (2, 1.5, 97, 88), "D", D_TITLE, (410, 26.7), (232, 75), (299, 509), 73.3, (404, 55),
            (585, 75))
D_FBS = [896, 1029, 1162, 1295, 1418]
D_BOTTOMS = [896, 1029, 1162, 1295, 1480]
d_items = build_rows(D_ROWS, D_SIG, ROW_TOPS, D_FBS, D_BOTTOMS, 848, 1610, 0, 906, 1607, 999.8, 158.4,
                     -0.4, 14.0, 113.33, D_YTICKS, D_YLABELS, 7, 0, -5)

# ---------------------------------------------------------------- panel E
hE = px_fig(848, 96)
draw_header(hE, (94, 1.5, 189, 94.5), "E", E_TITLE, (500, 36.7), (324, 78), (396, 605), 77.5, (500.8, 61),
            (679, 78), star_size=46)
E_TOPS = [1562, 1696, 1830, 1964, 2098]
E_FBS = [1696, 1830, 1964, 2098, 2218]
E_BOTTOMS = [1696, 1830, 1964, 2098, 2272]
e_items = build_rows(E_ROWS, E_SIG, E_TOPS, E_FBS, E_BOTTOMS, 0, 848, 92, 145, 845, 239.4, 158.6,
                     -0.3, 21.0, 231.5, E_YTICKS, E_YLABELS, 3, 67.3, -13)

# ---------------------------------------------------------------- layout
top = row(column(W(hA), W(pA)), W(sB), column(W(hB), W(pB)), W(leg))
left_col = column(W(hC), *c_items, W(hE), *e_items)
right_col = column(W(hD), *d_items)
page = column(top, row(left_col, right_col))

open("out.html", "w").write(file_html(page, INLINE, "Figure"))
